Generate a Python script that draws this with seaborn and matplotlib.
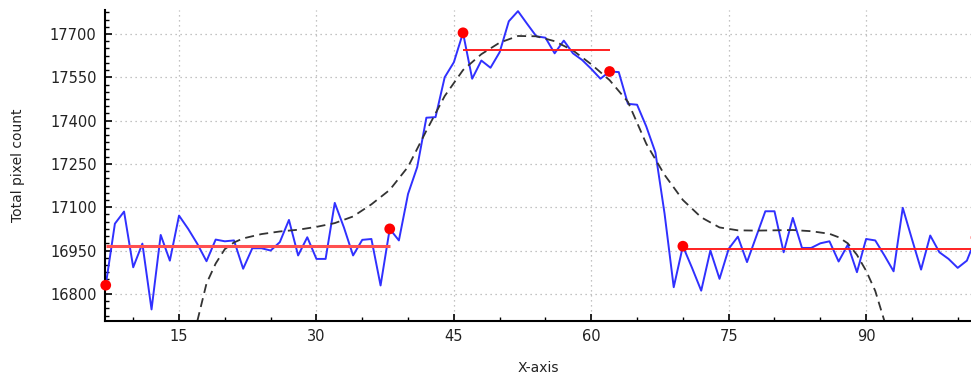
import numpy as np
import pandas as pd
import matplotlib
matplotlib.use("Agg")
import matplotlib.pyplot as plt
from matplotlib.ticker import MultipleLocator
import seaborn as sns

# ── Data ───────────────────────────────────────────────────────────────────────
frame_x = list(range(7, 103))
pixel_count = [
    16830, 17043, 17085, 16892, 16974, 16746, 17004, 16915, 17071, 17025,   # 7-16
    16973, 16913, 16988, 16982, 16985, 16887, 16958, 16958, 16950, 16979,   # 17-26
    17056, 16933, 16996, 16921, 16921, 17115, 17030, 16933, 16987, 16990,   # 27-36
    16829, 17025, 16985, 17146, 17239, 17410, 17412, 17550, 17602, 17704,   # 37-46
    17545, 17608, 17583, 17637, 17744, 17779, 17735, 17692, 17687, 17633,   # 47-56
    17677, 17633, 17610, 17579, 17545, 17570, 17568, 17458, 17455, 17380,   # 57-66
    17290, 17078, 16823, 16965, 16890, 16811, 16950, 16852, 16956, 16998,   # 67-76
    16910, 16998, 17086, 17086, 16944, 17063, 16959, 16959, 16975, 16982,   # 77-86
    16912, 16970, 16875, 16990, 16985, 16933, 16878, 17098, 16990, 16884,   # 87-96
    17002, 16944, 16921, 16890, 16915, 16995,                               # 97-102
]

fit_x = [17, 18, 19, 20, 21, 22, 24, 26, 28, 30, 32, 34, 36, 38, 40, 42, 44, 46,
         48, 50, 52, 54, 56, 58, 60, 62, 64, 66, 68, 70, 72, 74, 76, 78, 80, 82,
         84, 86, 87, 88, 89, 90, 91, 92]
fit_y = [16706, 16836, 16905, 16955, 16978, 16992, 17007, 17016, 17022, 17032,
         17045, 17068, 17110, 17160, 17240, 17365, 17485, 17575, 17630, 17670,
         17693, 17692, 17675, 17643, 17595, 17540, 17465, 17320, 17212, 17125,
         17065, 17030, 17020, 17019, 17020, 17021, 17017, 17008, 16996, 16975,
         16935, 16880, 16810, 16706]

break_x = [7, 38, 46, 62, 70, 102]
break_y = [16830, 17025, 17704, 17570, 16965, 16995]

level_start = [7, 46, 70]
level_end = [38, 62, 102]
level_y = [16965, 17645, 16956]

df = pd.DataFrame({"x": frame_x, "count": pixel_count})
fit = pd.DataFrame({"x": fit_x, "y": fit_y})
pts = pd.DataFrame({"x": break_x, "y": break_y})

# ── Plot ───────────────────────────────────────────────────────────────────────
sns.set_style("white")
plt.rcParams["font.family"] = ["DejaVu Sans"]

fig = plt.figure(figsize=(9.71, 3.76), dpi=100)
ax = fig.add_axes([105 / 971, 1 - 321 / 376, 866 / 971, 311 / 376])

sns.lineplot(data=df, x="x", y="count", ax=ax, color="#3030ff", lw=1.4)
sns.lineplot(data=fit, x="x", y="y", ax=ax, color="#333333", lw=1.3,
             linestyle=(0, (5, 3)))

ax.hlines(level_y[0], level_start[0], level_end[0], color="#ff5050", lw=2.2, zorder=3)
ax.hlines(level_y[1:], level_start[1:], level_end[1:], color="#ff2020", lw=1.4, zorder=3)

sns.scatterplot(data=pts, x="x", y="y", ax=ax, color="#ff0000", s=60,
                edgecolor="none", zorder=5, clip_on=False)

ax.set_xlim(6.92, 101.45)
ax.set_ylim(16706, 17783)

ax.xaxis.set_major_locator(MultipleLocator(15))
ax.xaxis.set_minor_locator(MultipleLocator(5))
ax.yaxis.set_major_locator(MultipleLocator(150))
ax.yaxis.set_minor_locator(MultipleLocator(25))

ax.grid(True, which="major", color="#b0b0b0", linestyle=(0, (1, 3)), lw=0.9)
ax.tick_params(which="major", direction="in", length=5, width=1.2, color="black",
               labelsize=10.5, labelcolor="#222222", pad=6)
ax.tick_params(which="minor", direction="in", length=3, width=1, color="black")
ax.tick_params(axis="x", bottom=True, which="both")
ax.tick_params(axis="y", left=True, which="both")

for side in ["top", "right"]:
    ax.spines[side].set_visible(False)
for side in ["left", "bottom"]:
    ax.spines[side].set_color("black")
    ax.spines[side].set_linewidth(1.5)

ax.set_xlabel("X-axis", fontsize=10, color="#222222", labelpad=12)
ax.set_ylabel("Total pixel count", fontsize=10, color="#222222", labelpad=18)

fig.savefig("out.png", dpi=100)
